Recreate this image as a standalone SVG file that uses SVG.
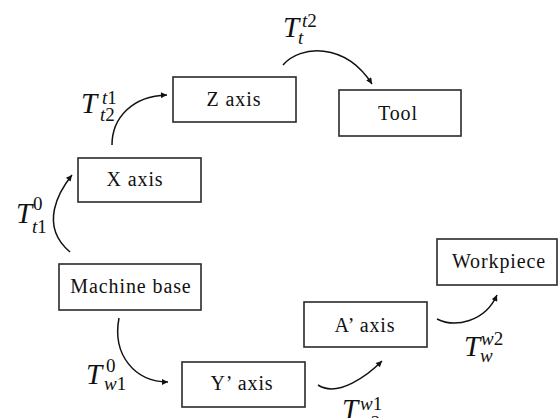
<svg xmlns="http://www.w3.org/2000/svg" width="558" height="418" viewBox="0 0 558 418">
<style>
.box{fill:#fff;stroke:#2a2a2a;stroke-width:1.6}
.lbl{font-family:"Liberation Serif","Times New Roman",serif;font-size:20px;letter-spacing:0.9px;fill:#111;text-anchor:middle}
.conn{fill:none;stroke:#111;stroke-width:1.5}
.m{font-family:"Liberation Serif","Times New Roman",serif;font-style:italic;fill:#111}
.big{font-size:29px}
.sm{font-size:19px}
.d{font-style:normal}
</style>
<defs>
<marker id="ah" viewBox="0 0 10 10" refX="10" refY="5" markerWidth="8" markerHeight="6" markerUnits="userSpaceOnUse" orient="auto">
<path d="M0,0 L10,5 L0,10 Z" fill="#111"/>
</marker>
</defs>
<rect width="558" height="418" fill="#fff"/>
<g id="machine-base"><rect class="box" x="59" y="264" width="142" height="46"/><text class="lbl" x="131" y="293">Machine base</text></g>
<g id="x-axis"><rect class="box" x="78" y="158" width="123" height="44"/><text class="lbl" x="135" y="186">X axis</text></g>
<g id="z-axis"><rect class="box" x="173" y="77" width="123" height="45"/><text class="lbl" x="234" y="106">Z axis</text></g>
<g id="tool"><rect class="box" x="339" y="90" width="122" height="46"/><text class="lbl" x="398" y="120">Tool</text></g>
<g id="y-axis"><rect class="box" x="182" y="362" width="123" height="45"/><text class="lbl" x="242" y="390">Y’ axis</text></g>
<g id="a-axis"><rect class="box" x="304" y="302" width="123" height="45"/><text class="lbl" x="365" y="332">A’ axis</text></g>
<g id="workpiece"><rect class="box" x="437" y="239" width="120" height="46"/><text class="lbl" x="499" y="268">Workpiece</text></g>
<g id="connectors">
<path class="conn" marker-end="url(#ah)" d="M70,252 C38,225 60,190 72,175"/>
<path class="conn" marker-end="url(#ah)" d="M112,145 C112,118 132,96 167,95"/>
<path class="conn" marker-end="url(#ah)" d="M283,65 C300,45 345,42 372,84"/>
<path class="conn" marker-end="url(#ah)" d="M119,318 C112,355 135,382 168,382"/>
<path class="conn" marker-end="url(#ah)" d="M318,385 C338,398 368,375 382,361"/>
<path class="conn" marker-end="url(#ah)" d="M437,319 C455,328 485,322 497,295"/>
</g>
<g id="labels">
<text class="m big" x="283" y="37">T</text><text class="m sm" x="302" y="27">t<tspan class="d">2</tspan></text><text class="m sm" x="298" y="44">t</text>
<text class="m big" x="81" y="113">T</text><text class="m sm" x="102" y="104">t<tspan class="d">1</tspan></text><text class="m sm" x="100" y="121">t<tspan class="d">2</tspan></text>
<text class="m big" x="16" y="223">T</text><text class="m sm d" x="33" y="210">0</text><text class="m sm" x="32" y="233">t<tspan class="d">1</tspan></text>
<text class="m big" x="86" y="384">T</text><text class="m sm d" x="106" y="372">0</text><text class="m sm" x="104" y="390">w<tspan class="d">1</tspan></text>
<text class="m big" x="342" y="419">T</text><text class="m sm" x="360" y="410">w<tspan class="d">1</tspan></text><text class="m sm" x="358" y="429">w<tspan class="d">2</tspan></text>
<text class="m big" x="464" y="356">T</text><text class="m sm" x="481" y="345">w<tspan class="d">2</tspan></text><text class="m sm" x="480" y="362">w</text>
</g>
</svg>
